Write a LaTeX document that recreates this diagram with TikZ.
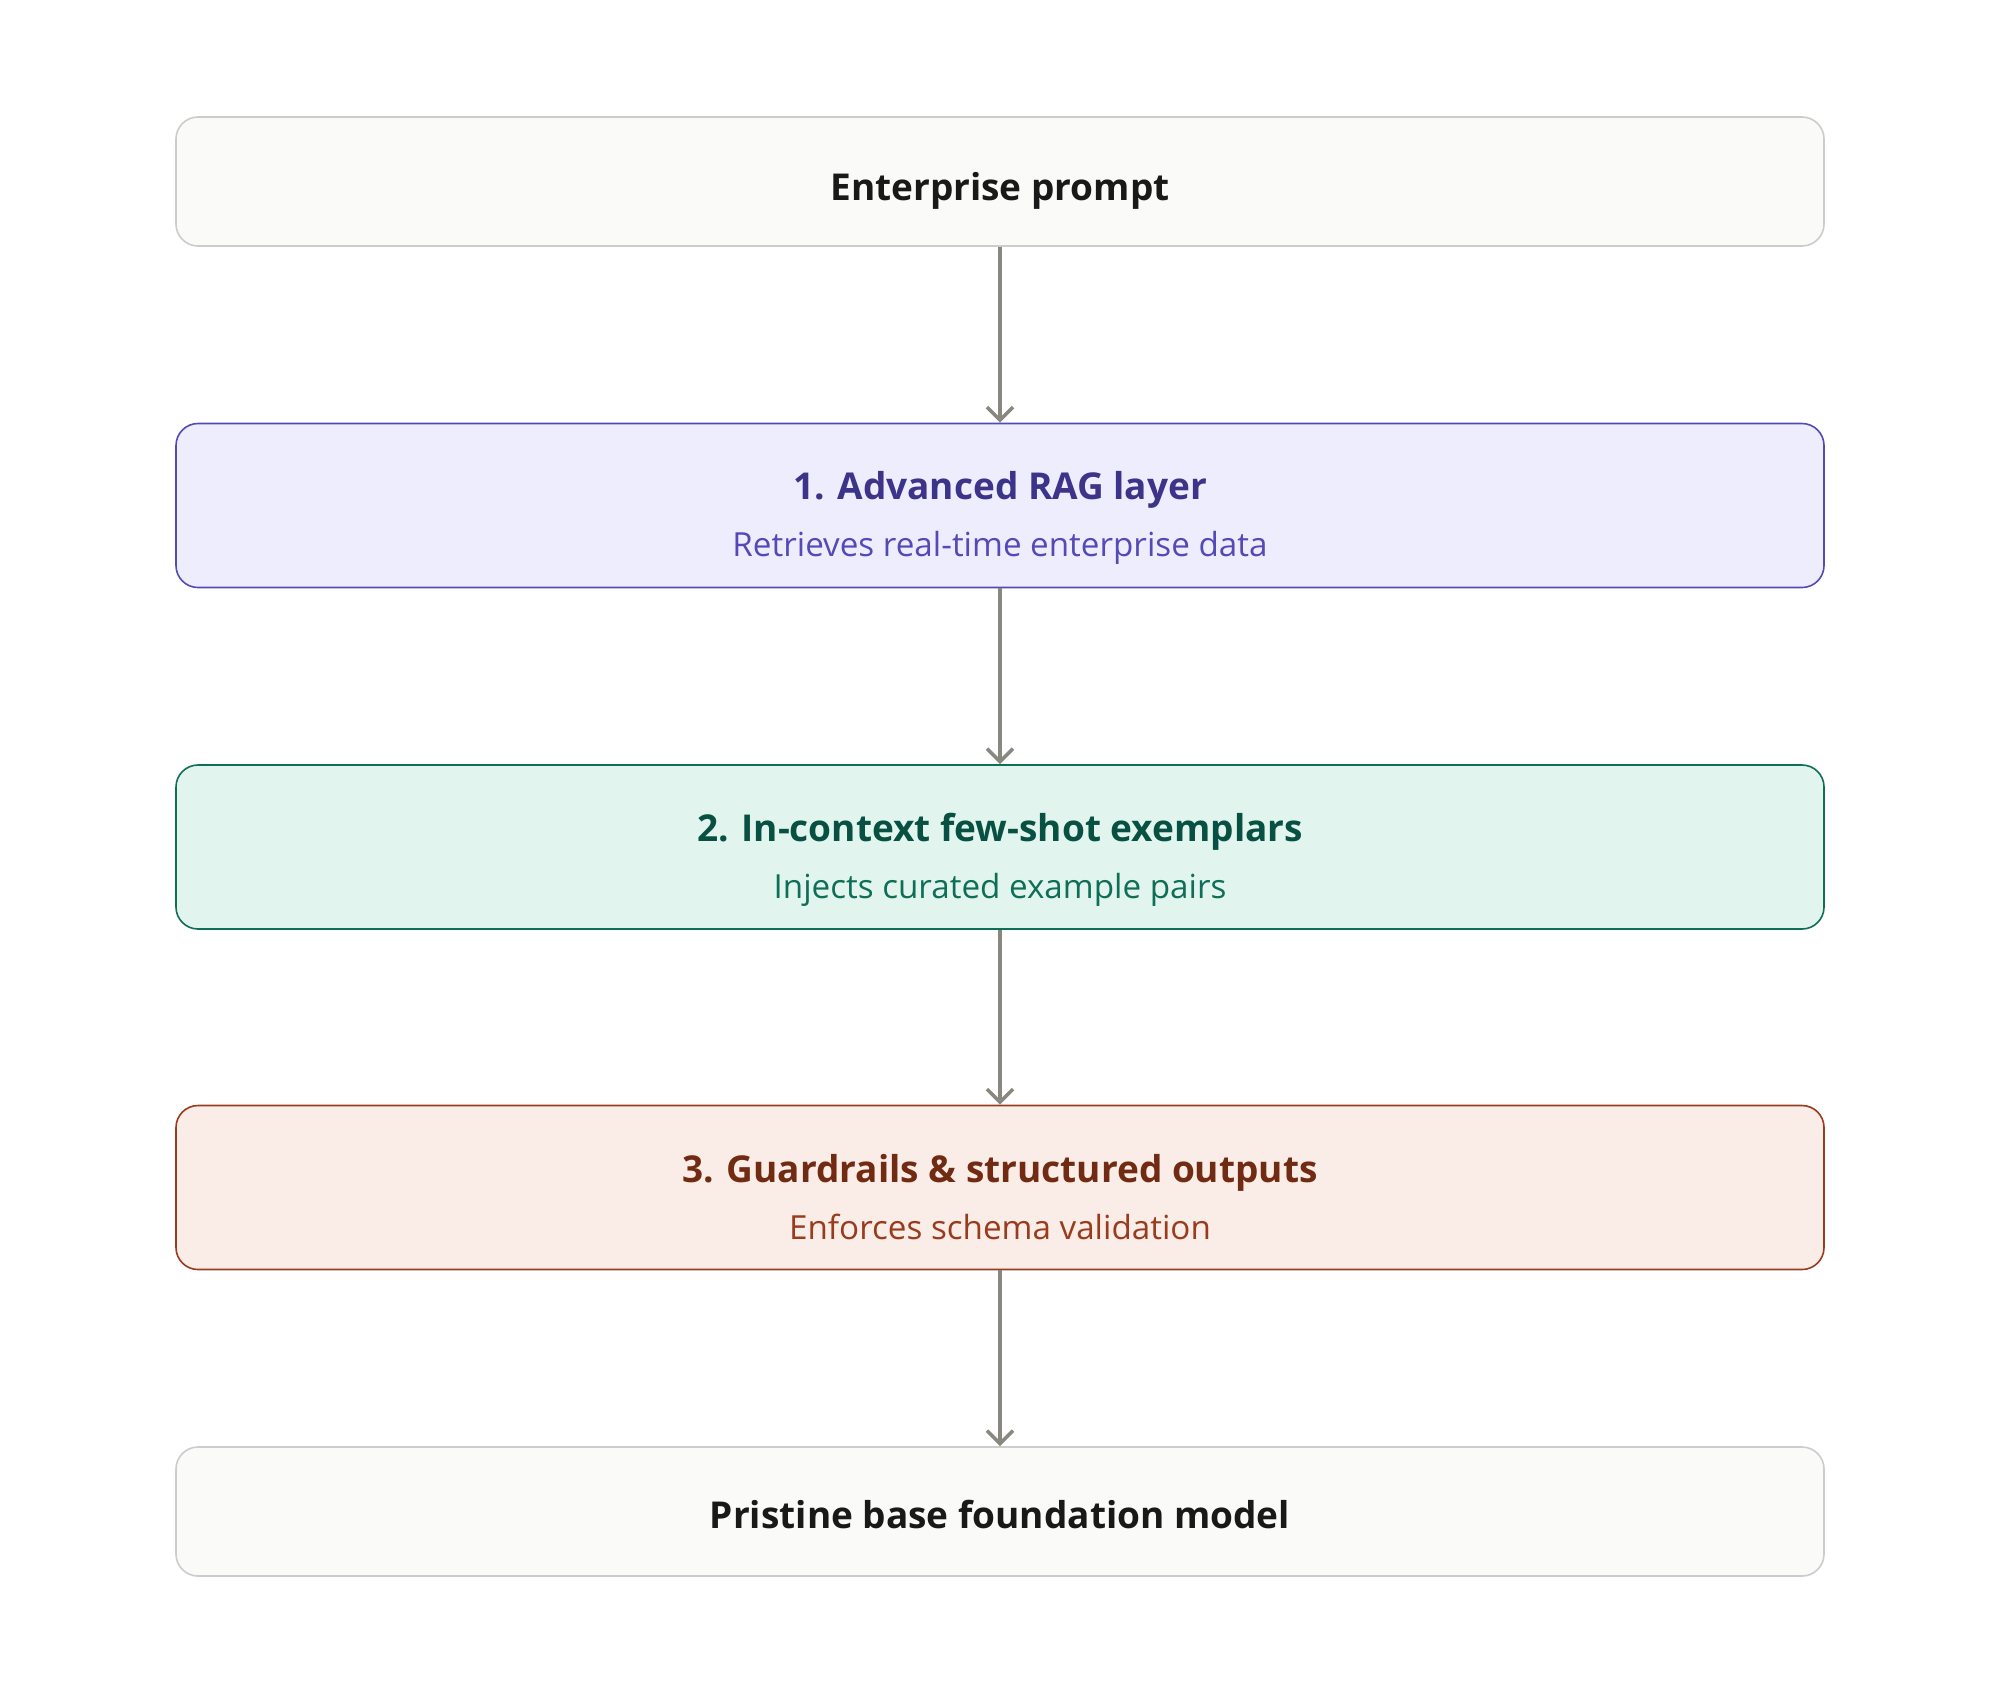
\documentclass[tikz,border=0pt]{standalone}
\usepackage{fontspec}
\setmainfont{Open Sans}
\usepackage{tikz}
\usetikzlibrary{arrows.meta}

\definecolor{plainfill}{HTML}{FAFAF8}
\definecolor{plaindraw}{HTML}{CCCCCA}
\definecolor{ragfill}{HTML}{EEEDFE}
\definecolor{ragdraw}{HTML}{534AB7}
\definecolor{ragtext}{HTML}{3C3489}
\definecolor{shotfill}{HTML}{E1F5EE}
\definecolor{shotdraw}{HTML}{0F6E56}
\definecolor{shottext}{HTML}{085041}
\definecolor{guardfill}{HTML}{FAECE7}
\definecolor{guarddraw}{HTML}{993C1D}
\definecolor{guardtext}{HTML}{712B13}
\definecolor{flowgray}{HTML}{888780}

\tikzset{
    layerbox/.style={rectangle, rounded corners=11pt, minimum width=824pt, line width=0.8pt},
    plainbox/.style={layerbox, minimum height=64.5pt, fill=plainfill, draw=plaindraw},
    stagebox/.style={layerbox, minimum height=82pt},
    headtext/.style={anchor=base, font=\fontsize{18.5}{22}\selectfont\bfseries},
    subtext/.style={anchor=base, font=\fontsize{16.6}{20}\selectfont},
    flow/.style={line width=1.8pt, color=flowgray, -{Straight Barb[length=6.5pt, width=13pt, line width=1.8pt]}}
}

\begin{document}
\begin{tikzpicture}
            [every node/.style={inner sep=0pt}]
                \useasboundingbox [fill=white] (0pt, 0pt) rectangle (1000pt, -847pt);
                \node (1) [plainbox] at (500pt, -90.75pt) {};
                \node (2) [stagebox, fill=ragfill, draw=ragdraw] at (500pt, -252.75pt) {};
                \node (3) [stagebox, fill=shotfill, draw=shotdraw] at (500pt, -423.5pt) {};
                \node (4) [stagebox, fill=guardfill, draw=guarddraw] at (500pt, -593.75pt) {};
                \node (5) [plainbox] at (500pt, -755.75pt) {};
                \node (1t) [headtext] at (500pt, -100pt) {\textcolor{black!90}{Enterprise prompt}};
                \node (2t) [headtext] at (500pt, -249.75pt) {\textcolor{ragtext}{1. Advanced RAG layer}};
                \node (2s) [subtext] at (500pt, -278.25pt) {\textcolor{ragdraw}{Retrieves real-time enterprise data}};
                \node (3t) [headtext] at (500pt, -420.5pt) {\textcolor{shottext}{2. In-context few-shot exemplars}};
                \node (3s) [subtext] at (500pt, -449pt) {\textcolor{shotdraw}{Injects curated example pairs}};
                \node (4t) [headtext] at (500pt, -591pt) {\textcolor{guardtext}{3. Guardrails \& structured outputs}};
                \node (4s) [subtext] at (500pt, -619.5pt) {\textcolor{guarddraw}{Enforces schema validation}};
                \node (5t) [headtext] at (500pt, -764pt) {\textcolor{black!90}{Pristine base foundation model}};
                \draw [flow] (1) to (2);
                \draw [flow] (2) to (3);
                \draw [flow] (3) to (4);
                \draw [flow] (4) to (5);
            \end{tikzpicture}
\end{document}
